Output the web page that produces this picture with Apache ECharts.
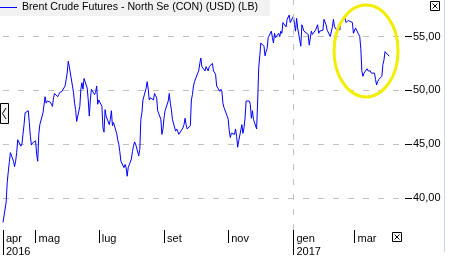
<!DOCTYPE html>
<html><head><meta charset="utf-8">
<script src="https://cdn.jsdelivr.net/npm/echarts@6/dist/echarts.min.js"></script>
<style>html,body{margin:0;padding:0;background:#fff;overflow:hidden}#c{width:452px;height:277px}</style>
</head><body><div id="c"></div>
<script>
const seriesName = 'Brent Crude Futures - North Se (CON) (USD) (LB)';
const startDate = '2016-04-01';
// one close per trading day (weekdays) starting at startDate
const closes = [
37.7,39.6,41.4,42.4,43.3,44.2,43.4,42.9,43.4,44.2,45.4,44.8,45.0,45.9,46.8,47.9,48.1,47.0,45.7,44.9,
45.1,45.3,44.0,43.4,45.9,46.8,47.9,48.0,49.4,48.8,49.0,48.9,48.7,48.5,49.3,49.7,49.4,49.6,49.8,49.8,
49.9,50.4,51.0,51.6,52.7,52.2,50.4,49.8,48.8,48.2,47.1,48.5,50.1,50.7,50.1,51.1,50.2,49.1,47.6,49.1,
50.1,49.6,49.8,50.4,48.7,49.1,
48.5,46.5,46.1,48.2,47.6,46.8,47.3,48.1,46.7,47.0,46.0,45.4,45.0,44.3,43.4,42.8,43.1,42.8,42.0,42.8,
43.6,44.3,44.8,45.2,45.0,43.9,44.5,47.3,47.9,49.1,50.2,50.8,50.1,49.1,49.3,49.1,49.7,49.5,49.3,48.1,
47.3,45.9,46.4,47.4,48.1,49.0,49.7,48.8,48.2,47.3,46.2,46.4,46.2,45.9,46.0,46.5,46.8,47.4,46.8,46.4,
46.7,49.1,49.6,50.4,50.8,51.6,51.8,52.5,
53.0,52.2,51.8,52.2,52.1,51.8,52.2,52.5,51.8,51.9,51.5,50.4,49.9,50.1,49.9,48.8,48.4,47.6,47.3,46.2,
45.6,46.0,45.9,46.4,45.7,44.7,45.3,46.8,46.0,46.5,47.4,49.0,49.0,48.7,47.4,48.1,47.3,46.4,49.0,52.1,
53.2,54.4,54.1,53.2,53.6,53.9,54.9,55.5,54.9,54.4,55.3,54.9,55.3,55.0,55.5,55.3,56.3,55.9,56.6,56.7,
57.0,56.3,56.9,56.1,55.5,56.7,55.8,54.1,
56.1,55.8,55.5,55.6,55.2,54.2,54.2,55.5,55.2,55.6,55.5,56.1,55.3,55.5,55.6,56.6,56.7,56.1,55.6,55.0,
54.9,55.9,56.6,55.9,55.5,56.1,55.6,56.3,56.4,56.7,56.3,56.4,56.5,56.4,56.3,55.3,55.2,55.8,55.6,55.0,
53.9,51.8,51.3,51.6,52.0,51.8,51.8,51.8,51.6,51.6,51.0,50.5,50.8,51.0,51.3,52.4,52.8,53.6,53.5,53.17
];
const yTicks = [40, 45, 50, 55];
const monthTicks = ['2016-04-01','2016-05-02','2016-07-01','2016-09-01','2016-11-01','2017-01-02','2017-03-01'];
const monthLabels = ['apr\n2016','mag','lug','set','nov','gen\n2017','mar'];
const yearTicks = ['2016-04-01','2017-01-02'];
const yearGridLine = '2017-01-02';
const xRange = ['2016-04-01','2017-04-18'];
const yRange = [37, 58.4];
const highlight = {date: '2017-03-12', value: 53.66};

function ts(s){ return new Date(s + 'T00:00:00').getTime(); }
function tradingDays(start, n){
  const out = []; let d = new Date(start + 'T00:00:00');
  while (out.length < n) {
    const wd = d.getDay();
    if (wd !== 0 && wd !== 6) out.push(d.getTime());
    d = new Date(d.getFullYear(), d.getMonth(), d.getDate() + 1);
  }
  return out;
}
const dates = tradingDays(startDate, closes.length);
const data = closes.map((v, i) => [dates[i], v]);
const lastVal = closes[closes.length - 1];
const labelMap = {};
monthTicks.forEach((m, i) => labelMap[ts(m)] = monthLabels[i]);
const fmt = v => v.toFixed(2).replace('.', ',');
const FONT = 'Liberation Sans, Arial, sans-serif';

const chart = echarts.init(document.getElementById('c'), null, {renderer: 'canvas'});
chart.setOption({
  animation: false,
  backgroundColor: '#fff',
  grid: {left: 0, right: 47, top: 0, bottom: 47, containLabel: false},
  legend: {
    show: true, left: 0, top: 0, padding: [2, 12, 3, 0],
    backgroundColor: '#f2f2f2',
    icon: 'rect', itemWidth: 17, itemHeight: 1, itemGap: 3,
    textStyle: {fontSize: 10.6, color: '#000', fontFamily: FONT},
    data: [seriesName]
  },
  xAxis: [{
    type: 'value', min: ts(xRange[0]), max: ts(xRange[1]),
    axisLine: {show: false},
    axisTick: {show: true, length: 13, lineStyle: {color: '#000', width: 1}, customValues: monthTicks.map(ts)},
    axisLabel: {show: true, customValues: monthTicks.map(ts), formatter: v => labelMap[v] || '',
      align: 'left', verticalAlign: 'top', margin: 2, padding: [0, 0, 0, 3], lineHeight: 13,
      fontSize: 11, color: '#000', fontFamily: FONT, hideOverlap: false},
    splitLine: {show: false}
  }, {
    type: 'value', min: ts(xRange[0]), max: ts(xRange[1]), position: 'bottom',
    axisLine: {show: false},
    axisTick: {show: true, length: 25, lineStyle: {color: '#000', width: 1}, customValues: yearTicks.map(ts)},
    axisLabel: {show: false},
    splitLine: {show: false}
  }],
  yAxis: {
    type: 'value', position: 'right', min: yRange[0], max: yRange[1],
    axisLine: {show: false},
    axisTick: {show: true, length: 7, lineStyle: {color: '#000', width: 1}, customValues: yTicks},
    axisLabel: {show: true, customValues: yTicks, formatter: fmt, margin: 8,
      fontSize: 11, color: '#000', fontFamily: FONT},
    splitLine: {show: true, lineStyle: {color: '#c0c0c0', width: 1, type: [6, 9]}}
  },
  series: [{
    name: seriesName, type: 'line', xAxisIndex: 0, yAxisIndex: 0,
    data: data, showSymbol: false, symbol: 'none',
    lineStyle: {color: '#0000ff', width: 1},
    itemStyle: {color: '#0000ff'},
    markLine: {
      silent: true, symbol: ['none', 'none'], animation: false,
      data: [
        {xAxis: ts(yearGridLine), lineStyle: {color: '#c0c0c0', width: 1, type: [6, 9]}, label: {show: false}},
        {yAxis: lastVal, lineStyle: {opacity: 0, width: 0},
          label: {show: true, position: 'end', distance: 7, formatter: fmt(lastVal),
            backgroundColor: '#0000ff', color: '#fff', padding: [2, 3, 1, 3], fontSize: 11, fontFamily: FONT}}
      ]
    }
  }]
});

function boxX(x, y){
  return {type: 'group', x: x, y: y, children: [
    {type: 'rect', shape: {x: 0.5, y: 0.5, width: 9, height: 9}, style: {fill: '#fff', stroke: '#000', lineWidth: 1}},
    {type: 'line', shape: {x1: 2.5, y1: 2.5, x2: 7.5, y2: 7.5}, style: {stroke: '#000', lineWidth: 1}},
    {type: 'line', shape: {x1: 7.5, y1: 2.5, x2: 2.5, y2: 7.5}, style: {stroke: '#000', lineWidth: 1}}
  ]};
}
const c = chart.convertToPixel({gridIndex: 0}, [ts(highlight.date), highlight.value]);
chart.setOption({graphic: [
  {type: 'ellipse', shape: {cx: c[0], cy: c[1], rx: 32, ry: 46}, style: {fill: 'none', stroke: '#f2ee00', lineWidth: 3}, z: 100},
  {type: 'group', x: 0, y: 103, children: [
    {type: 'rect', shape: {x: 0.5, y: 0.5, width: 8, height: 20}, style: {fill: '#f4f4f4', stroke: '#000', lineWidth: 1}},
    {type: 'polyline', shape: {points: [[6, 5], [2.5, 10.5], [6, 16]]}, style: {stroke: '#000', lineWidth: 1, fill: 'none'}}
  ]},
  boxX(430, 1),
  boxX(392, 232),
  {type: 'line', shape: {x1: 444.5, y1: 0, x2: 444.5, y2: 252}, style: {stroke: '#c9d7ee', lineWidth: 1}}
]});
</script></body></html>
